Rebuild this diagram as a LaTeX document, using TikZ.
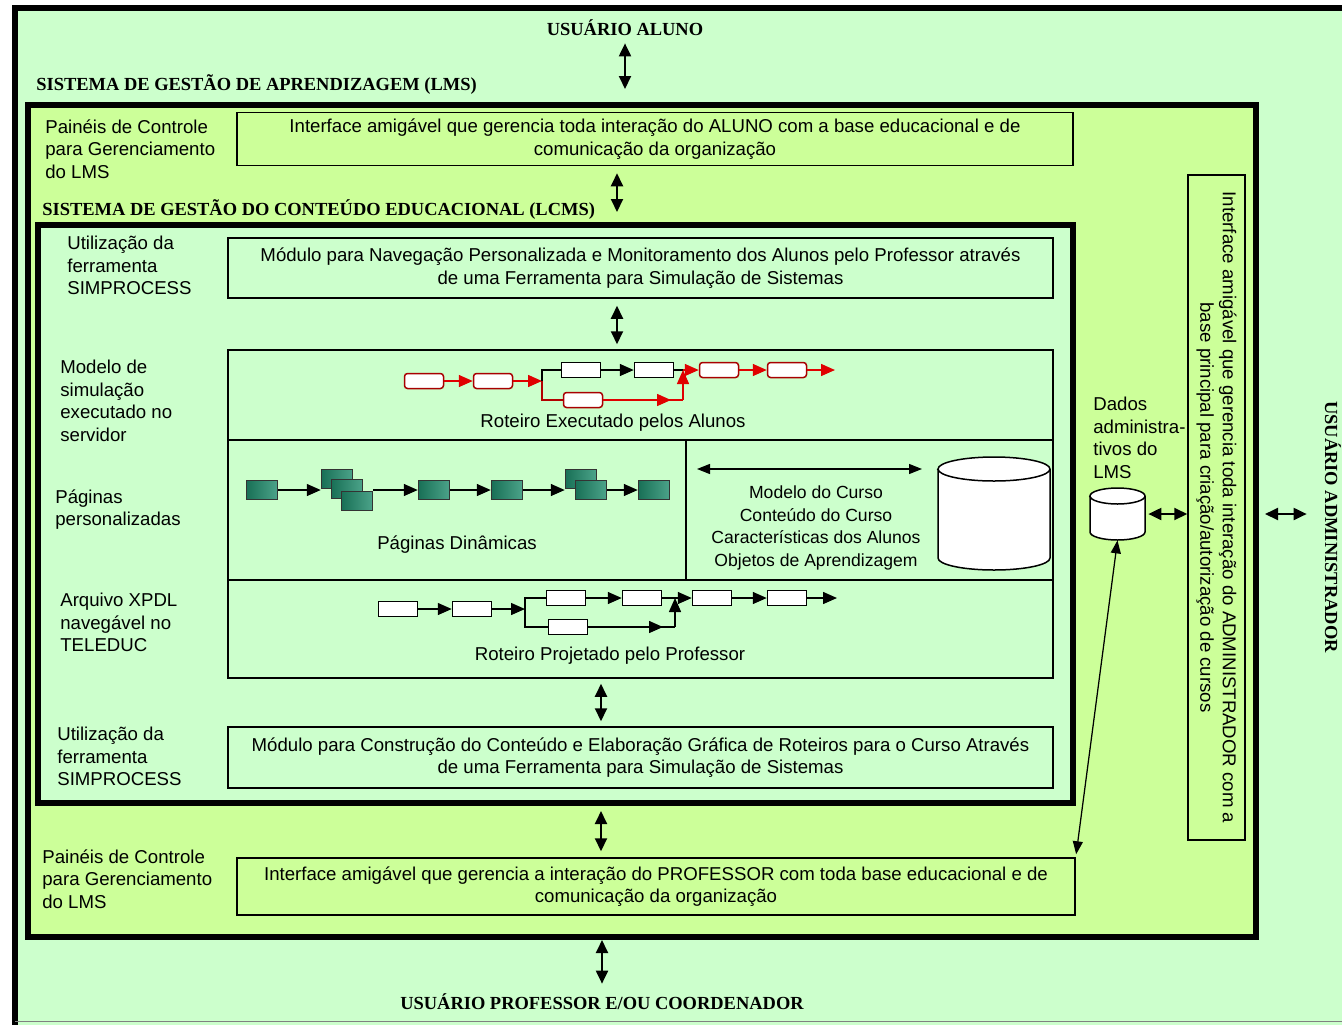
\documentclass[tikz,border=0pt]{standalone}
\usepackage{fontspec}
\setmainfont{Liberation Sans}
\newfontfamily\headfont{Liberation Serif}
\usepackage{tikz}
\usetikzlibrary{arrows.meta, positioning}
\definecolor{colorOuter}{HTML}{CCFFCC}
\definecolor{colorLms}{HTML}{CCFF99}
\definecolor{colorLcms}{HTML}{CCFFCC}
\definecolor{colorPage}{HTML}{1F8C6C}
\definecolor{colorRun}{HTML}{E00000}
\tikzset{
  sysframe/.style={draw, line width=1.2mm},
  panel/.style={draw, line width=0.3mm, align=center, inner sep=0},
  sidetext/.style={anchor=north west, align=left, inner sep=0},
  headtext/.style={font=\headfont\bfseries\fontsize{10.5}{12}\selectfont, inner sep=0},
  link/.style={<->, line width=0.4mm},
  thinlink/.style={<->, line width=0.25mm, >={Triangle[length=2.6mm, width=2mm]}},
  flow/.style={-{Triangle[length=2.8mm, width=2.4mm]}, line width=0.3mm},
  stepbox/.style={draw, fill=white, line width=0.3mm, minimum width=0.78cm, minimum height=0.3cm, inner sep=0},
  runbox/.style={stepbox, draw=colorRun!75!black, rounded corners=0.6mm},
  pagebox/.style={draw=black!80, left color=colorPage!80!black, right color=colorPage!80!white, line width=0.3mm, minimum width=0.62cm, minimum height=0.38cm, inner sep=0},
  dbase/.style={inner sep=0},
  drum/.style={draw, fill=white, line width=0.3mm}
}

\begin{document}
\begin{tikzpicture}[x=0.2mm, y=-0.2mm, font=\fontsize{10.6}{12.8}\selectfont, >={Triangle[length=2.6mm, width=2.4mm]}]
\useasboundingbox (0,0) rectangle (1342,1024);
% background and the two systems
\draw[sysframe, fill=colorOuter] (15,8) rectangle (1370,1040);
\draw[gray, thin] (15,1021) -- (1342,1021);
\node[sysframe, fill=colorLms, minimum width=24.56cm, minimum height=16.64cm] (lms) at (642,521) {};
\node[sysframe, fill=colorLcms, minimum width=20.7cm, minimum height=11.56cm] (lcms) at (555.5,514) {};

% titles
\node[headtext] (aluno) at (625,28) {USUÁRIO ALUNO};
\node[headtext, anchor=west] (lmsTitle) at (36,85) {SISTEMA DE GESTÃO DE APRENDIZAGEM (LMS)};
\node[headtext, anchor=west] (lcmsTitle) at (42,210) {SISTEMA DE GESTÃO DO CONTEÚDO EDUCACIONAL (LCMS)};
\node[headtext] (prof) at (602,1002) {USUÁRIO PROFESSOR E/OU COORDENADOR};
\node[headtext, rotate=-90] (admin) at (1333,527) {USUÁRIO ADMINISTRADOR};

% interfaces and modules
\node[panel, fill=colorLms, minimum width=16.72cm, minimum height=1.06cm] (ifAluno) at (655,139) {Interface amigável que gerencia toda interação do ALUNO com a base educacional e de\\comunicação da organização};
\node[panel, fill=colorLms, minimum width=16.76cm, minimum height=1.14cm] (ifProf) at (656,886.5) {Interface amigável que gerencia a interação do PROFESSOR com toda base educacional e de\\comunicação da organização};
\node[panel, fill=colorLms, rotate=-90, minimum width=13.3cm, minimum height=1.14cm] (ifAdmin) at (1216.5,507.5) {Interface amigável que gerencia toda interação do ADMINISTRADOR com a\\base principal para criação/autorização de cursos};
\node[panel, fill=colorLcms, minimum width=16.5cm, minimum height=1.2cm] (modNav) at (640.5,268) {Módulo para Navegação Personalizada e Monitoramento dos Alunos pelo Professor através\\de uma Ferramenta para Simulação de Sistemas};
\node[panel, fill=colorLcms, minimum width=16.5cm, minimum height=6.56cm] (scene) at (640.5,514) {};
\node[panel, fill=colorLcms, minimum width=16.5cm, minimum height=1.22cm] (modCons) at (640.5,757.5) {Módulo para Construção do Conteúdo e Elaboração Gráfica de Roteiros para o Curso Através\\de uma Ferramenta para Simulação de Sistemas};
\draw[line width=0.3mm] (228,440) -- (1053,440);
\draw[line width=0.3mm] (228,580) -- (1053,580);
\draw[line width=0.3mm] (686,440) -- (686,580);

% side texts
\node[sidetext] (panelTop) at (45,119) {Painéis de Controle\\para Gerenciamento\\do LMS};
\node[sidetext] (toolTop) at (67,236) {Utilização da\\ferramenta\\SIMPROCESS};
\node[sidetext] (simModel) at (60,360) {Modelo de\\simulação\\executado no\\servidor};
\node[sidetext] (pageText) at (55,489) {Páginas\\personalizadas};
\node[sidetext] (xpdlText) at (60,593) {Arquivo XPDL\\navegável no\\TELEDUC};
\node[sidetext] (toolBottom) at (57,727) {Utilização da\\ferramenta\\SIMPROCESS};
\node[sidetext] (panelBottom) at (42,849) {Painéis de Controle\\para Gerenciamento\\do LMS};
\node[sidetext] (adminData) at (1093,397) {Dados\\administra-\\tivos do\\LMS};

% captions inside the scene
\node (runCap) at (613,423) {Roteiro Executado pelos Alunos};
\node (pageCap) at (457,545) {Páginas Dinâmicas};
\node[align=center, font=\fontsize{10}{12.8}\selectfont] (courseInfo) at (816,528) {Modelo do Curso\\Conteúdo do Curso\\Características dos Alunos\\Objetos de Aprendizagem};
\node (planCap) at (610,656) {Roteiro Projetado pelo Professor};

% data bases
\node[dbase, minimum width=2.24cm, minimum height=2.26cm] (courseDb) at (994,513.5) {};
\draw[drum] (938,469) -- (938,558) arc[start angle=180, end angle=360, x radius=1.12cm, y radius=0.24cm]
  -- (1050,469) arc[start angle=0, end angle=180, x radius=1.12cm, y radius=0.24cm] -- cycle;
\draw[line width=0.3mm] (938,469) arc[start angle=180, end angle=360, x radius=1.12cm, y radius=0.24cm];
\node[dbase, minimum width=1.1cm, minimum height=1.04cm] (adminDb) at (1117.5,514) {};
\draw[drum] (1090,496) -- (1090,532) arc[start angle=180, end angle=360, x radius=0.55cm, y radius=0.16cm]
  -- (1145,496) arc[start angle=0, end angle=180, x radius=0.55cm, y radius=0.16cm] -- cycle;
\draw[line width=0.3mm] (1090,496) arc[start angle=180, end angle=360, x radius=0.55cm, y radius=0.16cm];
\coordinate (courseStart) at (697,469);
\coordinate (courseEnd) at (922,469);
\draw[thinlink] (courseStart) -- (courseEnd);

% route run by the students
\node[runbox] (rA) at (424,381) {};
\node[runbox] (rB) at (493,381) {};
\coordinate (rSplit) at (542,381);
\node[stepbox] (rUp1) at (581,370) {};
\node[stepbox] (rUp2) at (654,370) {};
\node[runbox] (rLow) at (583,400) {};
\coordinate (rJoin) at (683,370);
\node[runbox] (rC) at (719,370) {};
\node[runbox] (rD) at (787,370) {};
\coordinate (rEnd) at (835,370);
\draw[flow, colorRun] (rA) -- (rB);
\draw[flow, colorRun] (rB) -- (rSplit);
\draw[line width=0.3mm] (rSplit) |- (rUp1);
\draw[line width=0.3mm, colorRun!80!black] (rSplit) |- (rLow);
\draw[flow] (rUp1) -- (rUp2);
\draw[line width=0.3mm] (rUp2) -- (rJoin);
\draw[line width=0.3mm, colorRun] (rLow) -- (rLow -| rJoin);
\draw[flow, colorRun] (rLow) -- ([xshift=-2.4mm]rLow -| rJoin);
\draw[flow, colorRun] (rLow -| rJoin) -- (rJoin);
\draw[flow, colorRun] (rJoin) -- (rC);
\draw[flow, colorRun] (rC) -- (rD);
\draw[flow, colorRun] (rD) -- (rEnd);

% dynamic pages
\node[pagebox] (gA) at (262,490) {};
\node[pagebox] (gS1) at (337,479) {};
\node[pagebox] (gS2) at (347,489) {};
\node[pagebox] (gS3) at (357,501) {};
\node[pagebox] (gB) at (434,490) {};
\node[pagebox] (gC) at (507,490) {};
\node[pagebox] (gT1) at (581,479) {};
\node[pagebox] (gT2) at (591,490) {};
\node[pagebox] (gD) at (654,490) {};
\draw[flow] (gA) -- (gS1.west |- gA);
\draw[flow] (gS3.east |- gB) -- (gB);
\draw[flow] (gB) -- (gC);
\draw[flow] (gC) -- (gT1.west |- gC);
\draw[flow] (gT2) -- (gD);

% route designed by the teacher
\node[stepbox] (xA) at (398,609) {};
\node[stepbox] (xB) at (472,609) {};
\coordinate (xSplit) at (525,609);
\node[stepbox] (xUp1) at (566,598) {};
\node[stepbox] (xUp2) at (642,598) {};
\node[stepbox] (xLow) at (568,627) {};
\coordinate (xJoin) at (675,598);
\node[stepbox] (xC) at (712,598) {};
\node[stepbox] (xD) at (787,598) {};
\coordinate (xEnd) at (837,598);
\draw[flow] (xA) -- (xB);
\draw[flow] (xB) -- (xSplit);
\draw[line width=0.3mm] (xSplit) |- (xUp1);
\draw[line width=0.3mm] (xSplit) |- (xLow);
\draw[flow] (xUp1) -- (xUp2);
\draw[line width=0.3mm] (xUp2) -- (xJoin);
\draw[line width=0.3mm] (xLow) -- (xLow -| xJoin);
\draw[flow] (xLow) -- ([xshift=-2.4mm]xLow -| xJoin);
\draw[flow] (xLow -| xJoin) -- (xJoin);
\draw[flow] (xJoin) -- (xC);
\draw[flow] (xC) -- (xD);
\draw[flow] (xD) -- (xEnd);

% links between the layers
\draw[link, shorten <=1.4mm, shorten >=2.6mm] (aluno.south) -- (aluno.south |- lms.north);
\draw[link, shorten <=1.4mm, shorten >=2mm] ([xshift=-7.6mm]ifAluno.south) -- ([xshift=-7.6mm]ifAluno.south |- lcms.north);
\draw[link, shorten <=1.4mm, shorten >=1mm] ([xshift=-4.7mm]modNav.south) -- ([xshift=-4.7mm]modNav.south |- scene.north);
\draw[link, shorten <=1mm, shorten >=1mm] ([xshift=-7.9mm]scene.south) -- ([xshift=-7.9mm]scene.south |- modCons.north);
\draw[link, shorten <=1mm, shorten >=1.2mm] ([xshift=9.1mm]lcms.south) -- ([xshift=9.1mm]lcms.south |- ifProf.north);
\draw[link, shorten >=2mm] (prof.north |- lms.south) -- (prof.north);
\draw[link, shorten <=1.2mm, shorten >=3.6mm] (lms.east |- adminDb) -- (admin.south |- adminDb);
\draw[link, shorten <=0.6mm] (adminDb.east) -- (adminDb.east -| ifAdmin.south);
\draw[thinlink, shorten >=0.6mm] (adminDb.south) -- (ifProf.north east);
\end{tikzpicture}
\end{document}
